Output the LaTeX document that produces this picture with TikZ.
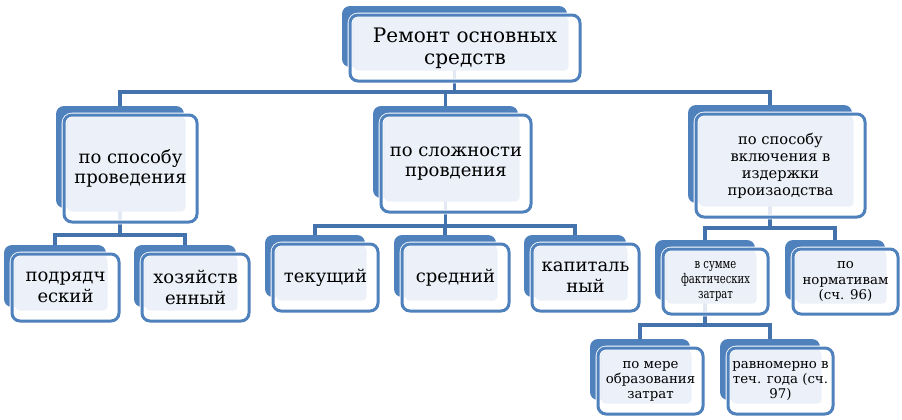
\documentclass[tikz,border=0pt]{standalone}
\usepackage{fontspec}
\setmainfont{DejaVu Serif}
\usetikzlibrary{calc,fit}
\pgfdeclarelayer{background}
\pgfsetlayers{background,main}
\definecolor{boxblue}{HTML}{4F81BD}
\definecolor{linkblue}{HTML}{4472AC}
\definecolor{paleblue}{HTML}{ECF0F8}
\tikzset{every picture/.style={line width=0.75pt}}
\tikzset{
  backbox/.style={fill=boxblue, draw=none, rounded corners=6pt, inner sep=0pt},
  framebox/.style={draw=white, double=boxblue, double distance=2.25pt, line width=0.6pt, rounded corners=6pt, fill=white, fill opacity=0.85},
  palebox/.style={fill=paleblue, rounded corners=3pt},
  link/.style={draw=linkblue, line width=2.4pt},
  toptxt/.style={align=center, inner sep=0pt, font=\fontsize{15}{16.5}\selectfont},
  bigtxt/.style={align=center, inner sep=0pt, font=\fontsize{13.5}{15.5}\selectfont},
  midtxt/.style={align=center, inner sep=0pt, font=\fontsize{11}{12.8}\selectfont},
  smalltxt/.style={align=center, inner sep=0pt, font=\fontsize{10}{11.3}\selectfont}
}
% squeezed line of text
\newcommand{\squeeze}[1]{\scalebox{0.75}[1]{#1}}
% back box, frame, pale face and text of one block
\newcommand{\accbox}[5][bigtxt]{%
  \node[backbox, fit={(#3) (#4)}] (#2) {};
  \draw[framebox] ($(#2.north west)+(8.5,9.5)$) rectangle ($(#2.south east)+(12.5,13.5)$);
  \fill[palebox] ($(#2.north west)+(12,12)$) rectangle ($(#2.south east)+(1,3)$);
  \node[#1] (#2-t) at ($(#2.center)+(10.5,11.5)$) {#5};
}

\begin{document}
\begin{tikzpicture}[x=0.75pt,y=0.75pt,yscale=-1,xscale=1]
\useasboundingbox (0,0) rectangle (902,419);

% top block
\accbox[toptxt]{root}{342,6}{567,67}{Ремонт основных\\средств}

% second row
\accbox{way}{56,106}{184,208}{по способу\\проведения}
\accbox{level}{373,106}{518,198}{по сложности\\провдения}
\accbox[midtxt]{cost}{688,105}{852,203}{по способу\\включения в\\издержки\\произаодства}

% third row
\accbox{contr}{4,245}{106,307}{подрядч\\еский}
\accbox{own}{134,245}{236,307}{хозяйств\\енный}
\accbox{cur}{265,235}{365,297}{текущий}
\accbox{mid}{394,235}{496,297}{средний}
\accbox{cap}{524,235}{626,297}{капиталь\\ный}
\accbox[smalltxt]{fact}{655,240}{755,300}{\squeeze{в сумме}\\\squeeze{фактических}\\\squeeze{затрат}}
\accbox[smalltxt]{norm}{785,240}{885,300}{по\\нормативам\\(сч. 96)}

% fourth row
\accbox[smalltxt]{made}{590,339}{690,400}{по мере\\образования\\затрат}
\accbox[smalltxt]{even}{720,339}{820,400}{равномерно в\\теч. года (сч.\\97)}

% buses
\coordinate (bus0) at (0,92);
\coordinate (bus1) at (0,235);
\coordinate (bus2) at (0,226);
\coordinate (bus3) at (0,228);
\coordinate (bus4) at (0,325);

\begin{pgfonlayer}{background}
\foreach \kid in {way,level,cost}
  \draw[link] (root.center) -- (root |- bus0) -| (\kid.north);
\foreach \kid in {contr,own}
  \draw[link] (way.center) -- (way |- bus1) -| (\kid.north);
\foreach \kid in {cur,mid,cap}
  \draw[link] (level.center) -- (level |- bus2) -| (\kid.north);
\foreach \kid in {fact,norm}
  \draw[link] (cost.center) -- (cost |- bus3) -| (\kid.north);
\foreach \kid in {made,even}
  \draw[link] (fact.center) -- (fact |- bus4) -| (\kid.north);
\end{pgfonlayer}

\end{tikzpicture}
\end{document}
